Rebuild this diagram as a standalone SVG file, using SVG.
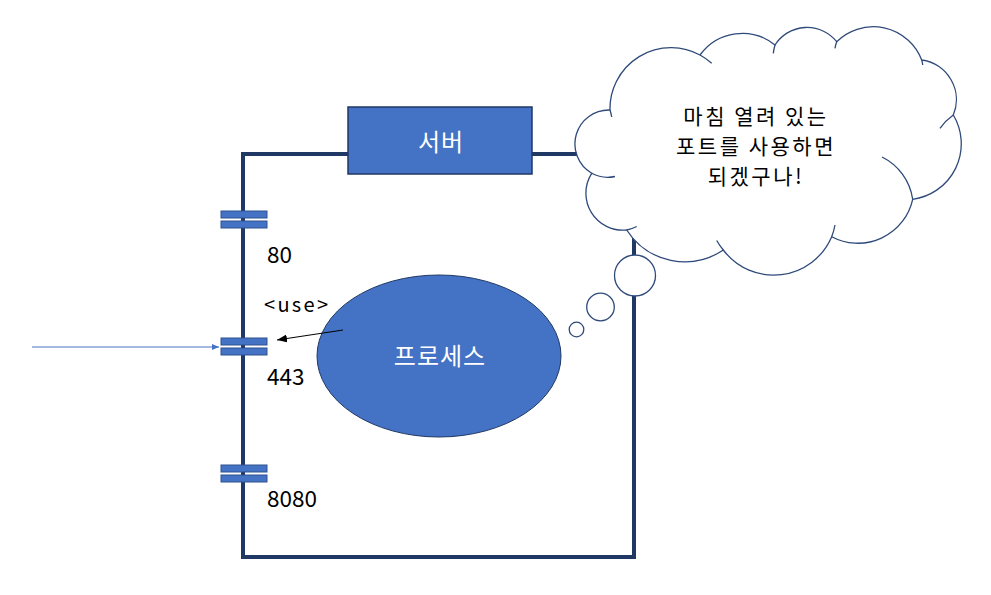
<svg xmlns="http://www.w3.org/2000/svg" width="991" height="595" viewBox="0 0 991 595">
<style>
.frame{fill:none;stroke:#1F3864;stroke-width:4}
.blue{fill:#4472C4;stroke:#1F3864;stroke-width:1.5}
.port{fill:#4472C4;stroke:#2F528F;stroke-width:1}
.cloud{fill:#FFFFFF;stroke:#2F4A7A;stroke-width:1.3}
.hook{fill:none;stroke:#2F4A7A;stroke-width:1.3}
.t{font-family:"Noto Sans CJK KR","Noto Sans",sans-serif;fill:#000000}
.w{font-family:"Noto Sans CJK KR","Noto Sans",sans-serif;fill:#FFFFFF}
</style>
<defs>
<marker id="ab" markerWidth="8" markerHeight="8" refX="7" refY="4" orient="auto" markerUnits="userSpaceOnUse">
<path d="M0,1 L7,4 L0,7 Z" fill="#4472C4"/>
</marker>
<marker id="ak" markerWidth="12" markerHeight="10" refX="10" refY="5" orient="auto" markerUnits="userSpaceOnUse">
<path d="M0,1 L10,5 L0,9 Z" fill="#000000"/>
</marker>
</defs>
<g id="frame">
<rect class="frame" x="243" y="154" width="391" height="403"/>
</g>
<g id="server">
<rect class="blue" x="348" y="107" width="184" height="67"/>
<text class="w" x="441" y="151" font-size="24" letter-spacing="1" text-anchor="middle">서버</text>
</g>
<g id="process">
<ellipse class="blue" cx="439" cy="356" rx="122" ry="81" style="stroke-width:1"/>
<text class="w" x="440" y="365" font-size="24" letter-spacing="1" text-anchor="middle">프로세스</text>
</g>
<g id="port80">
<rect class="port" x="221" y="211" width="46" height="7"/>
<rect class="port" x="221" y="221" width="46" height="7"/>
<text class="t" x="267" y="263" font-size="22.5">80</text>
</g>
<g id="port443">
<rect class="port" x="221" y="338" width="46" height="7"/>
<rect class="port" x="221" y="348" width="46" height="7"/>
<text class="t" x="267" y="385" font-size="22.5">443</text>
</g>
<g id="port8080">
<rect class="port" x="221" y="465" width="46" height="7"/>
<rect class="port" x="221" y="475" width="46" height="7"/>
<text class="t" x="267" y="507" font-size="22.5">8080</text>
</g>
<g id="use-label">
<text class="t" x="264" y="312" font-size="20" textLength="64" lengthAdjust="spacing">&lt;use&gt;</text>
</g>
<g id="connectors">
<line x1="32" y1="347" x2="219" y2="347" stroke="#4472C4" stroke-width="1" marker-end="url(#ab)"/>
<line x1="343" y1="330" x2="277" y2="340" stroke="#000000" stroke-width="1" marker-end="url(#ak)"/>
</g>
<g id="thought">
<circle class="cloud" cx="635" cy="275.5" r="20.5"/>
<circle class="cloud" cx="600.5" cy="307" r="13.8"/>
<circle class="cloud" cx="576.5" cy="329.5" r="7.3"/>
<path class="cloud" d="M610,110 A34,34 0 0 0 591.7,173.3 A37,37 0 0 0 626.7,230 A69,69 0 0 0 723.3,250 A63,63 0 0 0 831.7,236.7 A56,56 0 0 0 912.7,199.3 A56,56 0 0 0 953.3,115 A40,40 0 0 0 921.7,60 A52,52 0 0 0 836.7,41.7 A38,38 0 0 0 775,45 A52,52 0 0 0 700,55 A61,61 0 0 0 610,110 Z"/>
<path class="hook" d="M610,110 Q611,113 611.7,117"/>
<path class="hook" d="M591.7,173.3 A34,34 0 0 0 615,176.5"/>
<path class="hook" d="M626.7,230 A37,37 0 0 0 636.7,226.5"/>
<path class="hook" d="M723.3,250 A63,63 0 0 1 716.7,240.5"/>
<path class="hook" d="M831.7,236.7 A63,63 0 0 0 835,225"/>
<path class="hook" d="M912.7,199.3 A56,56 0 0 0 882,157"/>
<path class="hook" d="M953.3,115 A56,56 0 0 0 940,128.3"/>
<path class="hook" d="M921.7,60 Q922.5,62.5 922.7,65"/>
<path class="hook" d="M836.7,41.7 Q835.5,45 835,48.3"/>
<path class="hook" d="M775,45 Q773.8,49 773.3,53.3"/>
<path class="hook" d="M700,55 A61,61 0 0 1 711.7,63.3"/>
<text class="t" x="756" y="124" font-size="21" letter-spacing="2.5" text-anchor="middle">마침 열려 있는</text>
<text class="t" x="756" y="154" font-size="21" letter-spacing="2.5" text-anchor="middle">포트를 사용하면</text>
<text class="t" x="756" y="184" font-size="21" letter-spacing="2.5" text-anchor="middle">되겠구나!</text>
</g>
</svg>
